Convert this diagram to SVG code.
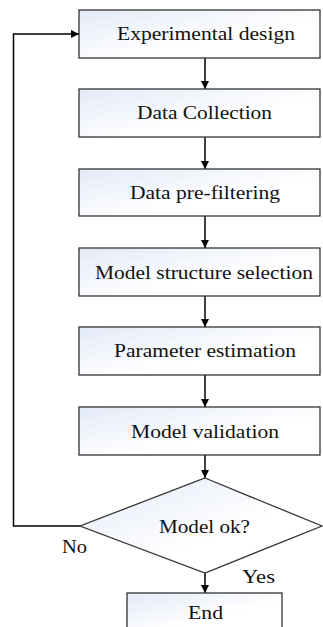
<svg xmlns="http://www.w3.org/2000/svg" width="323" height="627" viewBox="0 0 323 627">
<style>
.box{fill:url(#g);stroke:#333;stroke-width:1.3}
.t{font-family:"Liberation Serif","Times New Roman",serif;font-size:18px;fill:#111;text-anchor:middle}
.l{font-family:"Liberation Serif","Times New Roman",serif;font-size:18px;fill:#111}
.c{fill:none;stroke:#000;stroke-width:1.5}
</style>
<defs>
<linearGradient id="g" x1="0" y1="0" x2="1" y2="1">
<stop offset="0" stop-color="#e3eaf7"/>
<stop offset="0.6" stop-color="#ffffff"/>
</linearGradient>
<marker id="a" markerWidth="8" markerHeight="8" refX="8" refY="4" orient="auto" markerUnits="userSpaceOnUse">
<path d="M0,0 L8,4 L0,8 Z" fill="#000"/>
</marker>
</defs>
<rect width="323" height="627" fill="#fff"/>
<g id="connectors">
<line class="c" x1="205" y1="58" x2="205" y2="89" marker-end="url(#a)"/>
<line class="c" x1="205" y1="137" x2="205" y2="169" marker-end="url(#a)"/>
<line class="c" x1="205" y1="216" x2="205" y2="248" marker-end="url(#a)"/>
<line class="c" x1="205" y1="296" x2="205" y2="327" marker-end="url(#a)"/>
<line class="c" x1="205" y1="375" x2="205" y2="407" marker-end="url(#a)"/>
<line class="c" x1="205" y1="455" x2="205" y2="478" marker-end="url(#a)"/>
<line class="c" x1="205" y1="573" x2="205" y2="593" marker-end="url(#a)"/>
<polyline class="c" points="80,526 13.5,526 13.5,34 79,34" marker-end="url(#a)"/>
<text class="l" x="62" y="553" textLength="25" lengthAdjust="spacingAndGlyphs">No</text>
<text class="l" x="242" y="583" textLength="33" lengthAdjust="spacingAndGlyphs">Yes</text>
</g>
<g id="n1"><rect class="box" x="79" y="10" width="241" height="48"/><text class="t" x="206" y="40" textLength="178" lengthAdjust="spacingAndGlyphs">Experimental design</text></g>
<g id="n2"><rect class="box" x="79" y="89" width="241" height="48"/><text class="t" x="204.5" y="119" textLength="135" lengthAdjust="spacingAndGlyphs">Data Collection</text></g>
<g id="n3"><rect class="box" x="79" y="169" width="241" height="47"/><text class="t" x="205" y="199" textLength="150" lengthAdjust="spacingAndGlyphs">Data pre-filtering</text></g>
<g id="n4"><rect class="box" x="79" y="248" width="241" height="48"/><text class="t" x="204" y="279" textLength="218" lengthAdjust="spacingAndGlyphs">Model structure selection</text></g>
<g id="n5"><rect class="box" x="79" y="327" width="241" height="48"/><text class="t" x="205" y="357" textLength="182" lengthAdjust="spacingAndGlyphs">Parameter estimation</text></g>
<g id="n6"><rect class="box" x="79" y="407" width="241" height="48"/><text class="t" x="205" y="438" textLength="148" lengthAdjust="spacingAndGlyphs">Model validation</text></g>
<g id="n7"><polygon class="box" points="205,478 322,526 205,573 80,526"/><text class="t" x="204.5" y="533" textLength="91" lengthAdjust="spacingAndGlyphs">Model ok?</text></g>
<g id="n8"><rect class="box" x="127" y="593" width="155" height="40"/><text class="t" x="205.5" y="619" textLength="35" lengthAdjust="spacingAndGlyphs">End</text></g>
</svg>
